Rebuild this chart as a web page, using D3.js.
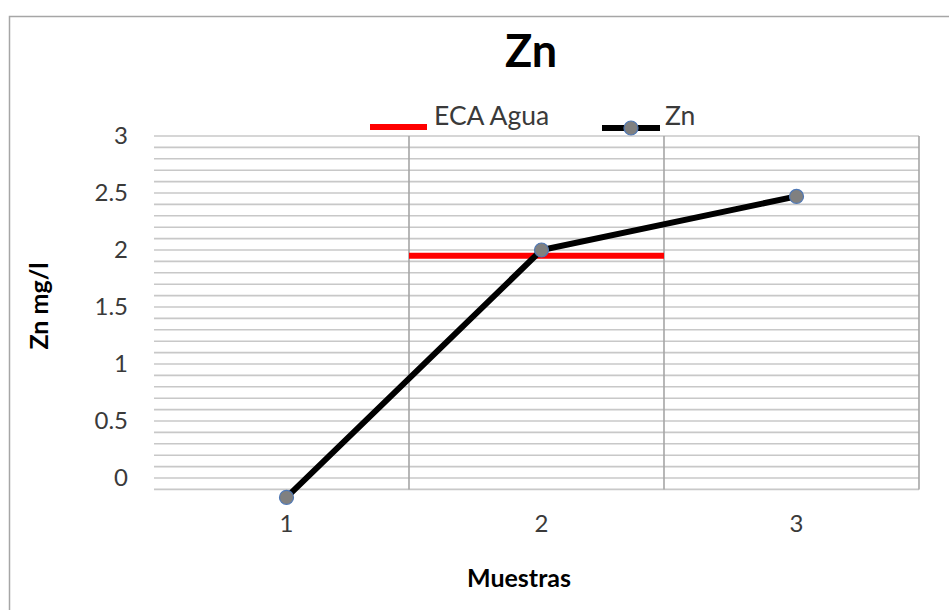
<!DOCTYPE html>
<html>
<head>
<meta charset="utf-8">
<script src="https://cdn.jsdelivr.net/npm/d3@7/dist/d3.min.js"></script>
<style>
  html, body { margin: 0; padding: 0; background: #fff; }
  svg { display: block; font-family: Lato, "Open Sans", sans-serif; }
</style>
</head>
<body>
<svg id="chart" width="949" height="610"></svg>
<script>
// ---- data ----
const categories = ["1", "2", "3"];
const znValues = [-0.17, 2.0, 2.47];
const ecaValues = [null, 1.95, null];
const yTickLabels = [0, 0.5, 1, 1.5, 2, 2.5, 3];
const gridValues = d3.range(-1, 31).map(i => i / 10);
const titleText = "Zn";
const xTitle = "Muestras";
const yTitle = "Zn mg/l";
const legendLabels = ["ECA Agua", "Zn"];

// ---- layout ----
const svg = d3.select("#chart");
const plot = { left: 154, right: 919, top: 136, bottom: 489 };

const x = d3.scaleBand().domain(categories).range([plot.left, plot.right]).padding(0);
const y = d3.scaleLinear().domain([0, 3]).range([478, 136]);

// outer border
svg.append("path")
  .attr("d", `M9.5,612 L9.5,16.5 L952,16.5`)
  .attr("fill", "none").attr("stroke", "#a6a6a6").attr("stroke-width", 1.5);

// horizontal gridlines
svg.append("g").selectAll("line").data(gridValues).join("line")
  .attr("x1", plot.left).attr("x2", plot.right)
  .attr("y1", d => y(d)).attr("y2", d => y(d))
  .attr("stroke", "#c8c8c8").attr("stroke-width", 1.6);

// vertical gridlines at category boundaries + right edge
const vlines = categories.slice(1).map(c => x(c)).concat([plot.right]);
svg.append("g").selectAll("line").data(vlines).join("line")
  .attr("x1", d => d).attr("x2", d => d)
  .attr("y1", y(3)).attr("y2", y(-0.1))
  .attr("stroke", "#a6a6a6").attr("stroke-width", 1.6);

// y axis labels
const yAxis = d3.axisLeft(y).tickValues(yTickLabels).tickSize(0).tickPadding(0)
  .tickFormat(d => String(d));
const yg = svg.append("g").attr("transform", `translate(${plot.left - 26},0)`).call(yAxis);
yg.select(".domain").remove();
yg.selectAll("text").attr("font-size", 24).attr("fill", "#3a3a3a")
  .attr("font-family", "Lato, sans-serif");

// x axis labels
const xAxis = d3.axisBottom(x).tickSize(0).tickPadding(0);
const xg = svg.append("g").attr("transform", `translate(5,${515})`).call(xAxis);
xg.select(".domain").remove();
xg.selectAll("text").attr("font-size", 24).attr("fill", "#3a3a3a")
  .attr("font-family", "Lato, sans-serif");

// ECA line (spans the category band)
const ecaData = categories.map((c, i) => ({ c, v: ecaValues[i] })).filter(d => d.v != null);
svg.append("g").selectAll("line").data(ecaData).join("line")
  .attr("x1", d => x(d.c)).attr("x2", d => x(d.c) + x.bandwidth())
  .attr("y1", d => y(d.v)).attr("y2", d => y(d.v))
  .attr("stroke", "#ff0000").attr("stroke-width", 6);

// Zn series
const znData = categories.map((c, i) => ({ c, v: znValues[i] }));
const marks = svg.append("g").attr("transform", "translate(5,0)");
marks.append("path").datum(znData)
  .attr("d", d3.line().x(d => x(d.c) + x.bandwidth() / 2).y(d => y(d.v)))
  .attr("fill", "none").attr("stroke", "#000").attr("stroke-width", 6);
marks.selectAll("circle").data(znData).join("circle")
  .attr("cx", d => x(d.c) + x.bandwidth() / 2).attr("cy", d => y(d.v))
  .attr("r", 7).attr("fill", "#808080").attr("stroke", "#4f78b5").attr("stroke-width", 1.2);

// title
svg.append("text").attr("x", 531).attr("y", 67).attr("text-anchor", "middle")
  .attr("font-size", 45).attr("font-weight", "bold").attr("fill", "#000")
  .attr("font-family", "Lato, sans-serif").text(titleText);

// legend
const lg = svg.append("g");
lg.append("line").attr("x1", 370).attr("x2", 427).attr("y1", 127).attr("y2", 127)
  .attr("stroke", "#ff0000").attr("stroke-width", 6);
lg.append("text").attr("x", 434).attr("y", 125).attr("font-size", 26.5).attr("fill", "#3a3a3a")
  .text(legendLabels[0]);
lg.append("line").attr("x1", 602).attr("x2", 660).attr("y1", 128).attr("y2", 128)
  .attr("stroke", "#000").attr("stroke-width", 6);
lg.append("circle").attr("cx", 631).attr("cy", 128).attr("r", 7)
  .attr("fill", "#808080").attr("stroke", "#4f78b5").attr("stroke-width", 1.2);
lg.append("text").attr("x", 665).attr("y", 125).attr("font-size", 26.5).attr("fill", "#3a3a3a")
  .text(legendLabels[1]);

// axis titles
svg.append("text").attr("x", 519).attr("y", 587).attr("text-anchor", "middle")
  .attr("font-size", 25).attr("font-weight", "bold").attr("fill", "#000").text(xTitle);
svg.append("text").attr("transform", "translate(48,306) rotate(-90)").attr("text-anchor", "middle")
  .attr("font-size", 25).attr("font-weight", "bold").attr("fill", "#000").text(yTitle);
</script>
</body>
</html>
